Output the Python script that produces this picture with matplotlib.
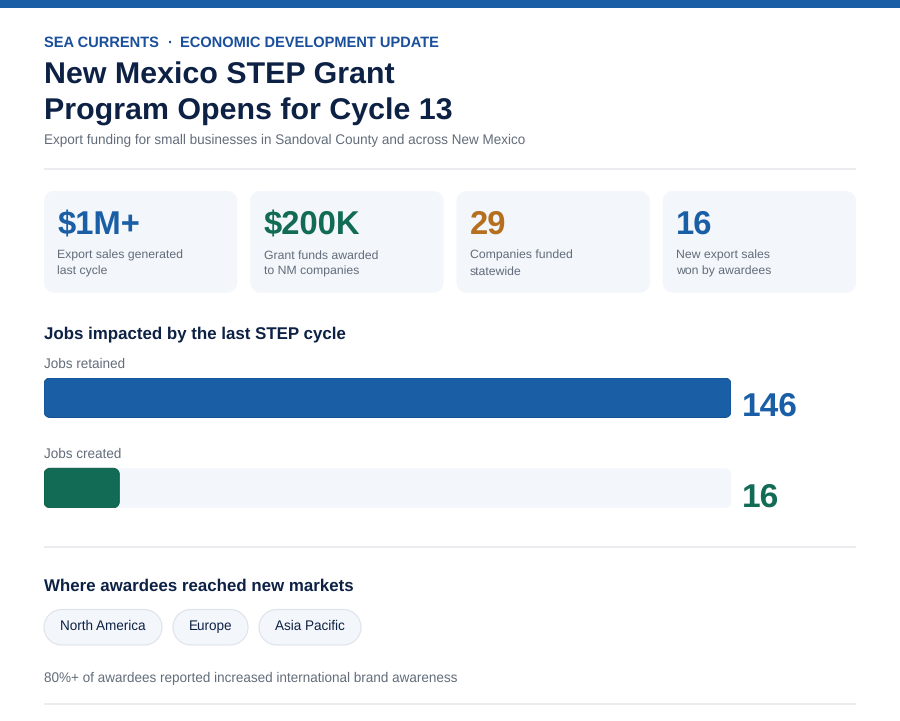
import matplotlib
matplotlib.use('Agg')
from matplotlib import pyplot as plt
from matplotlib.patches import PathPatch, Rectangle
from matplotlib.path import Path

plt.rcParams['font.family'] = ['Liberation Sans', 'DejaVu Sans']
plt.rcParams['text.hinting'] = 'no_hinting'
plt.rcParams['text.hinting_factor'] = 8
plt.rcParams['text.kerning_factor'] = 0

BLUE = '#1a5ea6'
GREEN = '#116b55'
ORANGE = '#b5701f'
NAVY = '#0d2145'
GRAY = '#626c7a'
CARD = '#f3f6fa'
RULE = '#e6e9ee'

stat_values = ['$1M+', '$200K', '29', '16']
stat_labels = ['Export sales generated\nlast cycle', 'Grant funds awarded\nto NM companies',
               'Companies funded\nstatewide', 'New export sales\nwon by awardees']
stat_colors = [BLUE, GREEN, ORANGE, BLUE]
stat_lefts = [44, 250.25, 456.5, 662.75]

job_labels = ['Jobs retained', 'Jobs created']
job_values = [146, 16]
job_colors = [BLUE, GREEN]
job_edges = ['#134f91', '#0d5a46']
job_tops = [378, 468.3]

market_labels = ['North America', 'Europe', 'Asia Pacific']
market_lefts = [44, 173, 259]
market_widths = [118, 75, 102]


def px(size):
    return size * 0.72


fig = plt.figure(figsize=(9, 7.21), dpi=100)
ax = fig.add_axes([0, 0, 1, 1])
ax.set_xlim(0, 900)
ax.set_ylim(721, 0)
ax.axis('off')


def text(x, y, s, size, color, weight='normal', **kw):
    ax.text(x, y, s, fontsize=px(size), color=color, fontweight=weight, va='baseline', ha=kw.pop('ha', 'left'), **kw)


def rounded(axes, x, y, w, h, rx, ry, fc, ec='none', lw=0):
    # rounded box with real quarter circles, FancyBboxPatch corners look too square
    kx, ky = rx * 0.448, ry * 0.448
    r, b = x + w, y + h
    verts = [(x + rx, y), (r - rx, y), (r - kx, y), (r, y + ky), (r, y + ry),
             (r, b - ry), (r, b - ky), (r - kx, b), (r - rx, b),
             (x + rx, b), (x + kx, b), (x, b - ky), (x, b - ry),
             (x, y + ry), (x, y + ky), (x + kx, y), (x + rx, y), (x + rx, y)]
    codes = [Path.MOVETO, Path.LINETO, Path.CURVE4, Path.CURVE4, Path.CURVE4,
             Path.LINETO, Path.CURVE4, Path.CURVE4, Path.CURVE4,
             Path.LINETO, Path.CURVE4, Path.CURVE4, Path.CURVE4,
             Path.LINETO, Path.CURVE4, Path.CURVE4, Path.CURVE4, Path.CLOSEPOLY]
    axes.add_patch(PathPatch(Path(verts, codes), fc=fc, ec=ec, lw=lw))


# header
ax.add_patch(Rectangle((0, 0), 900, 8, fc=BLUE, ec='none'))
text(44, 46.8, 'SEA CURRENTS', 14.6, '#1a4f9c', weight='bold')
text(167.5, 46.8, '·', 14.6, '#1a4f9c', weight='bold')
text(180, 46.8, 'ECONOMIC DEVELOPMENT UPDATE', 14.6, '#1a4f9c', weight='bold')
text(44, 83.5, 'New Mexico STEP Grant', 30.4, NAVY, weight='bold')
text(44, 120, 'Program Opens for Cycle 13', 30.4, NAVY, weight='bold')
text(44, 144, 'Export funding for small businesses in Sandoval County and across New Mexico', 13.5, GRAY)
ax.plot([44, 856], [169, 169], color=RULE, lw=1.2, solid_capstyle='butt')

# stat cards
for left, val, lab, col in zip(stat_lefts, stat_values, stat_labels, stat_colors):
    rounded(ax, left, 191, 193.25, 101.7, 10, 10, CARD)
    text(left + 13.3, 234, val, 32.8, col, weight='bold')
    line1, line2 = lab.split('\n')
    text(left + 13.3, 259, line1, 12.3, GRAY)
    text(left + 13.3, 275, line2, 12.3, GRAY)

# jobs section
text(44, 338.5, 'Jobs impacted by the last STEP cycle', 16.9, NAVY, weight='bold')

ax_bars = fig.add_axes([44 / 900, 1 - 508 / 721, 687 / 900, 130 / 721])
ax_bars.set_xlim(0, max(job_values))
ax_bars.set_ylim(508, 378)
ax_bars.axis('off')
scale = 687 / max(job_values)
for lab, val, col, edge, top in zip(job_labels, job_values, job_colors, job_edges, job_tops):
    rounded(ax_bars, 0, top, max(job_values), 39.5, 6 / scale, 6, CARD)
    rounded(ax_bars, 0, top, val, 39.5, 6 / scale, 6, col, ec=edge, lw=0.7)
    text(44, top - 10, lab, 13.5, GRAY)
    text(742, top + 38, str(val), 33.5, col, weight='bold')

ax.plot([44, 856], [547, 547], color=RULE, lw=1.2, solid_capstyle='butt')

# markets
text(44, 590.5, 'Where awardees reached new markets', 16.9, NAVY, weight='bold')
for left, w, lab in zip(market_lefts, market_widths, market_labels):
    rounded(ax, left, 609.5, w, 35.5, 17.75, 17.75, CARD, ec='#dde3ea', lw=0.8)
    text(left + w / 2, 630, lab, 13.5, NAVY, ha='center')

text(44, 682, '80%+ of awardees reported increased international brand awareness', 13.5, GRAY)
ax.plot([44, 856], [704, 704], color=RULE, lw=1.2, solid_capstyle='butt')

fig.savefig('out.png', dpi=100)
